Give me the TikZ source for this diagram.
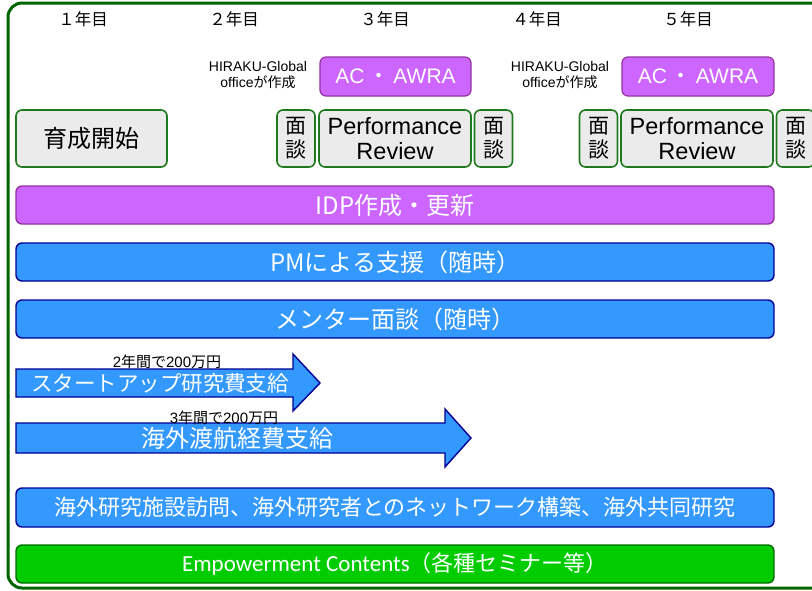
\documentclass[tikz,border=0pt]{standalone}
\usepackage{fontspec}
\setmainfont{Liberation Sans}
\newfontfamily\jp{Noto Sans CJK JP}
\newfontfamily\calfont{Carlito}
\definecolor{framegreen}{RGB}{0,100,0}
\definecolor{boxgreen}{RGB}{30,120,30}
\definecolor{boxgray}{RGB}{235,235,235}
\definecolor{violetfill}{RGB}{204,102,255}
\definecolor{violetdraw}{RGB}{150,50,160}
\definecolor{bluefill}{RGB}{51,153,255}
\definecolor{bluedraw}{RGB}{0,0,150}
\definecolor{greenfill}{RGB}{0,204,0}
\definecolor{greendraw}{RGB}{0,110,0}
\begin{document}
\begin{tikzpicture}[x=1pt,y=-1pt,
  gbox/.style={draw=boxgreen, line width=1.6pt, fill=boxgray, rounded corners=6pt, inner sep=0pt, text=black, minimum height=57pt, align=center},
  vbox/.style={draw=violetdraw, line width=1.2pt, fill=violetfill, rounded corners=6pt, inner sep=0pt, text=white, minimum height=39pt, minimum width=151pt, font=\fontsize{21pt}{24pt}\selectfont},
  bar/.style={line width=1.4pt, rounded corners=6pt, inner sep=0pt, text=white, minimum width=758pt, minimum height=38pt, font=\jp\fontsize{24pt}{28pt}\selectfont},
  vbar/.style={bar, draw=violetdraw, fill=violetfill},
  bbar/.style={bar, draw=bluedraw, fill=bluefill},
  gbar/.style={bar, draw=greendraw, fill=greenfill},
  yr/.style={inner sep=0pt, font=\jp\fontsize{16.5pt}{18pt}\selectfont},
  hira/.style={inner sep=0pt, align=center, font=\fontsize{14pt}{15.5pt}\selectfont},
  mendan/.style={gbox, minimum width=38pt, font=\jp\fontsize{21pt}{24pt}\selectfont},
  prbox/.style={gbox, minimum width=152pt, font=\fontsize{23.5pt}{25pt}\selectfont},
  arrowbody/.style={draw=bluedraw, line width=1.4pt, fill=bluefill, line join=miter},
  arrtxt/.style={inner sep=0pt, text=white},
  amount/.style={inner sep=0pt, font=\fontsize{15pt}{17pt}\selectfont}
]
\useasboundingbox (0,0) rectangle (812,590);
\clip (0,0) rectangle (812,590);
\fill[white] (0,0) rectangle (812,590);
% outer frame
\draw[framegreen, line width=3pt, rounded corners=14pt] (8,3) rectangle (850,588);

% year labels
\node[yr] (y1) at (83,19) {１年目};
\node[yr] (y2) at (234,19) {２年目};
\node[yr] (y3) at (385,19) {３年目};
\node[yr] (y4) at (537,19) {４年目};
\node[yr] (y5) at (688,19) {５年目};

% HIRAKU-Global notes and AC/AWRA boxes
\node[hira] (h1) at (258,75) {HIRAKU-Global\\office{\jp が作成}};
\node[hira] (h2) at (560,75) {HIRAKU-Global\\office{\jp が作成}};
\node[vbox] (ac1) at (395.5,76.5) {AC\hspace{4pt}{\jp ・}\hspace{4pt}AWRA};
\node[vbox, minimum width=152pt] (ac2) at (698,76.5) {AC\hspace{4pt}{\jp ・}\hspace{4pt}AWRA};

% start / interviews / performance reviews
\node[gbox, minimum width=151pt, font=\jp\fontsize{24pt}{28pt}\selectfont] (start) at (91.5,138.5) {育成開始};
\node[mendan] (m1) at (296,138.5) {面\\談};
\node[prbox] (pr1) at (395,138.5) {Performance\\Review};
\node[mendan] (m2) at (493.5,138.5) {面\\談};
\node[mendan] (m3) at (598.5,138.5) {面\\談};
\node[prbox] (pr2) at (697,138.5) {Performance\\Review};
\node[mendan] (m4) at (795.5,138.5) {面\\談};

% bars
\node[vbar] (idp) at (395,205) {IDP作成・更新};
\node[bbar] (pm) at (395,262) {PMによる支援（随時）};
\node[bbar] (mentor) at (395,319) {メンター面談（随時）};

% arrows
\draw[arrowbody] (16,369) -- (293,369) -- (293,354) -- (320,383) -- (293,411) -- (293,397) -- (16,397) -- cycle;
\node[arrtxt, font=\jp\fontsize{21.5pt}{24pt}\selectfont] (startup) at (160,383) {スタートアップ研究費支給};
\node[amount] (amt1) at (167,362) {2{\jp 年間で}200{\jp 万円}};

\draw[arrowbody] (16,423) -- (445,423) -- (445,409) -- (471,438) -- (445,467) -- (445,453) -- (16,453) -- cycle;
\node[arrtxt, font=\jp\fontsize{24pt}{28pt}\selectfont] (travel) at (237,438) {海外渡航経費支給};
\node[amount] (amt2) at (224,418) {3{\jp 年間で}200{\jp 万円}};

\node[bbar, font=\jp\fontsize{22pt}{26pt}\selectfont, minimum height=39pt] (overseas) at (395,507.5) {海外研究施設訪問、海外研究者とのネットワーク構築、海外共同研究};
\node[gbar] (emp) at (395,564) {{\calfont\fontsize{23pt}{26pt}\selectfont Empowerment Contents}{\jp\fontsize{22pt}{26pt}\selectfont （各種セミナー等）}};
\end{tikzpicture}
\end{document}
